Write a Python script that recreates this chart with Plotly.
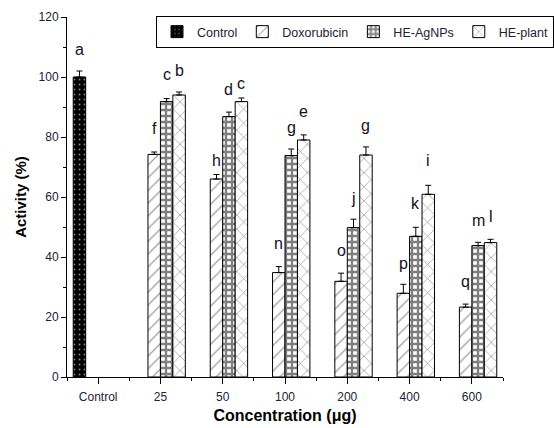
import plotly.graph_objects as go

# Cell activity (%) per treatment and concentration
categories = ["Control", "25", "50", "100", "200", "400", "600"]

control = [100, None, None, None, None, None, None]
control_err = [2, None, None, None, None, None, None]

doxorubicin = [None, 74.2, 66.0, 34.8, 31.9, 27.9, 23.3]
doxorubicin_err = [None, 0.8, 1.5, 2.0, 2.7, 3.0, 1.0]

he_agnps = [None, 91.8, 86.8, 73.8, 49.8, 46.9, 43.8]
he_agnps_err = [None, 1.0, 1.5, 2.2, 2.8, 3.0, 1.1]

he_plant = [None, 94.0, 91.8, 79.0, 74.0, 60.9, 44.8]
he_plant_err = [None, 1.0, 1.2, 1.7, 2.7, 3.0, 1.1]

# Significance letters and the heights (in %) where they are written
control_letters = ["a", None, None, None, None, None, None]
control_letter_y = [109.3, None, None, None, None, None, None]
dox_letters = [None, "f", "h", "n", "o", "p", "q"]
dox_letter_y = [None, 83.0, 72.3, 44.6, 42.3, 38.0, 32.0]
agnps_letters = [None, "c", "d", "g", "j", "k", "m"]
agnps_letter_y = [None, 100.7, 95.7, 83.2, 59.6, 57.7, 52.3]
plant_letters = [None, "b", "c", "e", "g", "i", "l"]
plant_letter_y = [None, 102.3, 98.0, 88.4, 84.0, 72.3, 53.4]

x_idx = list(range(len(categories)))
FONT = "Liberation Sans, Arial, sans-serif"

series = [
    ("Control", control, control_err,
     dict(shape=".", fgcolor="white", bgcolor="black", size=5, solidity=0.12)),
    ("Doxorubicin", doxorubicin, doxorubicin_err,
     dict(shape="/", fgcolor="#444444", bgcolor="white", size=9, solidity=0.15)),
    ("HE-AgNPs", he_agnps, he_agnps_err,
     dict(shape="+", fgcolor="black", bgcolor="white", size=6, solidity=0.62)),
    ("HE-plant", he_plant, he_plant_err,
     dict(shape="x", fgcolor="#333333", bgcolor="white", size=10, solidity=0.14)),
]

fig = go.Figure()
for name, vals, errs, pat in series:
    fig.add_trace(go.Bar(
        x=x_idx, y=vals, name=name,
        marker=dict(color=pat["bgcolor"], pattern=pat,
                    line=dict(color="black", width=1)),
        error_y=dict(type="data", array=[e if e is not None else 0 for e in errs],
                     arrayminus=[0] * len(errs), symmetric=False,
                     color="black", thickness=1, width=3),
    ))

# Letters sit above their own bar within each group of four slots
n_series = len(series)
slot = 0.8 / n_series
letter_sets = [
    (control_letters, control_letter_y),
    (dox_letters, dox_letter_y),
    (agnps_letters, agnps_letter_y),
    (plant_letters, plant_letter_y),
]
for k, (letters, ys) in enumerate(letter_sets):
    offset = (k - (n_series - 1) / 2) * slot
    for i, (txt, yv) in enumerate(zip(letters, ys)):
        if txt is None:
            continue
        fig.add_annotation(
            x=i + offset, y=yv, xref="x", yref="y", text=txt, showarrow=False,
            font=dict(family=FONT, size=16, color="#111122"),
            xanchor="center", yanchor="middle",
        )

fig.update_layout(
    width=554, height=428,
    margin=dict(l=67, r=51, t=17, b=51, autoexpand=False),
    paper_bgcolor="white", plot_bgcolor="white",
    barmode="group", bargap=0.2, bargroupgap=0,
    font=dict(family=FONT, size=12, color="#222233"),
    showlegend=True,
    legend=dict(
        orientation="h", xref="container", yref="container",
        x=1.0, xanchor="right", y=1 - 16 / 428, yanchor="top",
        bgcolor="white", bordercolor="black", borderwidth=1,
        font=dict(family=FONT, size=12.5, color="#222233"),
        itemwidth=30, tracegroupgap=0,
    ),
)

fig.update_xaxes(
    range=[-0.5, len(categories) - 0.5],
    tickmode="array", tickvals=x_idx, ticktext=categories,
    showline=True, linecolor="black", linewidth=1, mirror=False,
    ticks="outside", ticklen=6, tickcolor="black", ticklabelstandoff=3,
    minor=dict(tick0=0.5, dtick=1, ticks="outside", ticklen=3, tickcolor="black"),
    showgrid=False, zeroline=False,
    tickfont=dict(family=FONT, size=12, color="#222233"),
    title=dict(text="<b>Concentration (μg)</b>", standoff=6,
               font=dict(family=FONT, size=16, color="black")),
)

fig.update_yaxes(
    range=[0, 120], tick0=0, dtick=20,
    showline=True, linecolor="black", linewidth=1, mirror=False,
    ticks="outside", ticklen=5, tickcolor="black",
    minor=dict(dtick=10, ticks="outside", ticklen=3, tickcolor="black"),
    showgrid=False, zeroline=False,
    tickfont=dict(family=FONT, size=12, color="#222233"),
    title=dict(text="<b>Activity (%)</b>", standoff=8,
               font=dict(family=FONT, size=15, color="black")),
)

fig.write_html("out.html")
